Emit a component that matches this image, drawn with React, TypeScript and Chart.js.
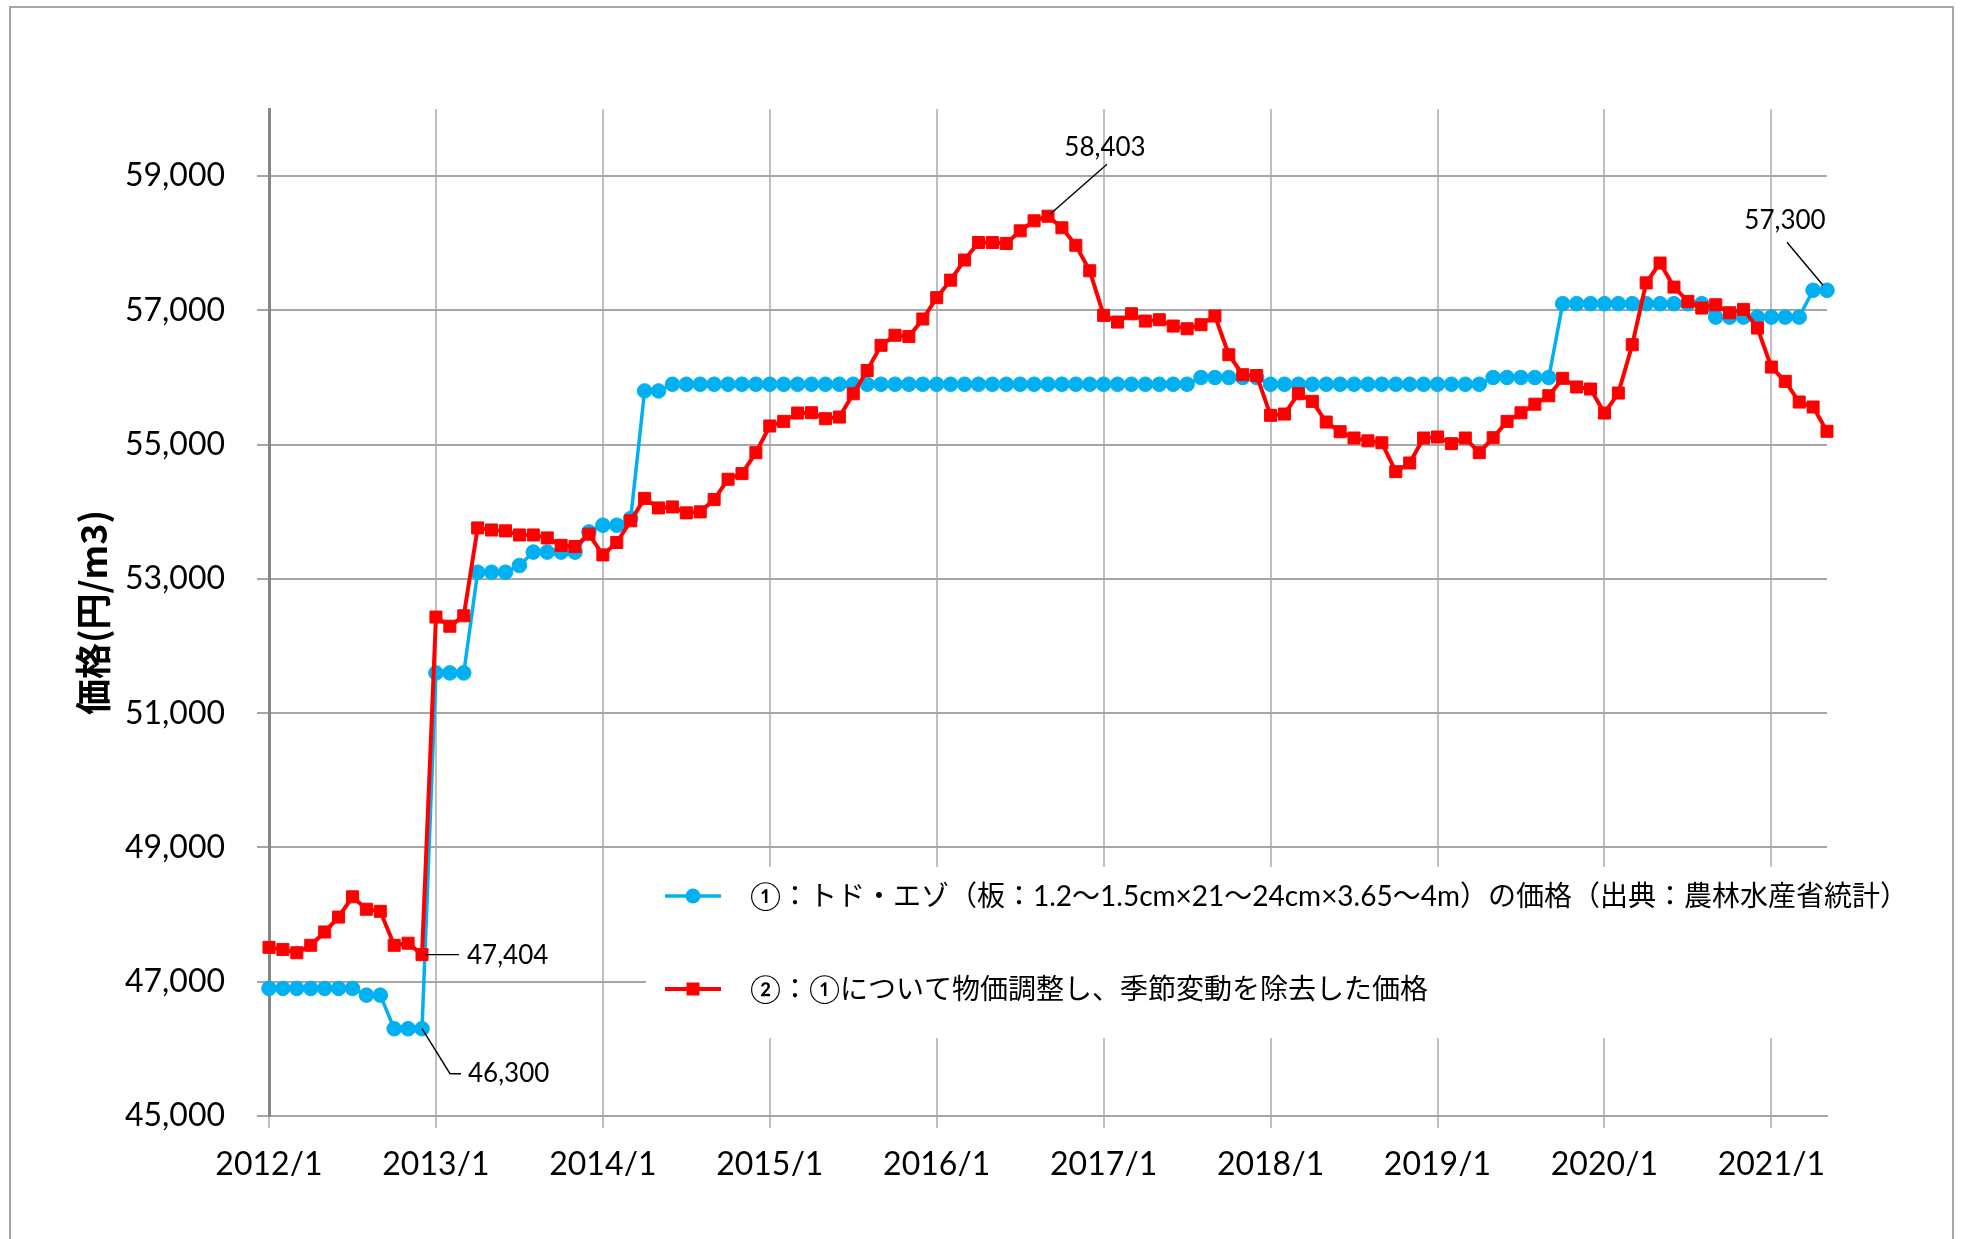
import { useEffect, useRef } from 'react';
import { Chart, registerables } from 'chart.js';

Chart.register(...registerables);

// ---- categories (monthly, 2012/1 .. 2021/5) ----
const START_YEAR = 2012;
const MONTH_COUNT = 113;
const monthLabels: string[] = [];
for (let i = 0; i < MONTH_COUNT; i++) {
  monthLabels.push(`${START_YEAR + Math.floor(i / 12)}/${(i % 12) + 1}`);
}

// ---- series names ----
const seriesNames = [
  '①：トド・エゾ（板：1.2～1.5cm×21～24cm×3.65～4m）の価格（出典：農林水産省統計）',
  '②：①について物価調整し、季節変動を除去した価格',
];

// ---- ① raw price (yen/m3) ----
const priceRaw = [
  46900, 46900, 46900, 46900, 46900, 46900, 46900, 46800, 46800, 46300, 46300, 46300,
  51600, 51600, 51600, 53100, 53100, 53100, 53200, 53400, 53400, 53400, 53400, 53700,
  53800, 53800, 53900, 55800, 55800, 55900, 55900, 55900, 55900, 55900, 55900, 55900,
  55900, 55900, 55900, 55900, 55900, 55900, 55900, 55900, 55900, 55900, 55900, 55900,
  55900, 55900, 55900, 55900, 55900, 55900, 55900, 55900, 55900, 55900, 55900, 55900,
  55900, 55900, 55900, 55900, 55900, 55900, 55900, 56000, 56000, 56000, 56000, 56000,
  55900, 55900, 55900, 55900, 55900, 55900, 55900, 55900, 55900, 55900, 55900, 55900,
  55900, 55900, 55900, 55900, 56000, 56000, 56000, 56000, 56000, 57100, 57100, 57100,
  57100, 57100, 57100, 57100, 57100, 57100, 57100, 57100, 56900, 56900, 56900, 56900,
  56900, 56900, 56900, 57300, 57300,
];

// ---- ② price-adjusted, seasonally adjusted (yen/m3) ----
const priceAdjusted = [
  47512, 47481, 47432, 47543, 47741, 47963, 48265, 48080, 48049, 47543, 47574, 47404,
  52432, 52296, 52451, 53760, 53729, 53716, 53655, 53655, 53611, 53500, 53482, 53667,
  53358, 53543, 53865, 54200, 54058, 54073, 53984, 53999, 54182, 54485, 54569, 54881,
  55278, 55347, 55471, 55476, 55387, 55411, 55758, 56105, 56480, 56630, 56610, 56872,
  57190, 57451, 57750, 58011, 58011, 57997, 58185, 58334, 58403, 58231, 57970, 57590,
  56926, 56826, 56950, 56841, 56861, 56767, 56727, 56787, 56916, 56340, 56042, 56030,
  55437, 55456, 55759, 55645, 55337, 55193, 55099, 55057, 55028, 54598, 54727, 55099,
  55114, 55015, 55099, 54881, 55104, 55347, 55474, 55603, 55729, 55988, 55859, 55829,
  55471, 55769, 56489, 57410, 57705, 57347, 57134, 57035, 57084, 56965, 57015, 56737,
  56156, 55943, 55635, 55561, 55199,
];

// ---- axis ----
const yTicks = [45000, 47000, 49000, 51000, 53000, 55000, 57000, 59000];
const Y_MIN = 45000;
const Y_MAX = 60000;
const yTitle = '価格(円/m3)';

// ---- callouts: [series index, month] ----
const callouts: [number, string][] = [
  [1, '2016/9'],
  [0, '2021/5'],
  [1, '2012/12'],
  [0, '2012/12'],
];

const COLORS = ['#00B0F0', '#FF0000'];
const FONT = 'Lato, "Noto Sans CJK JP", sans-serif';
const fmt = (v: number) => v.toLocaleString('en-US');

const overlayPlugin = {
  id: 'overlay',
  afterDraw(chart: any) {
    const ctx: CanvasRenderingContext2D = chart.ctx;
    const xs = chart.scales.x;
    const ys = chart.scales.y;
    const series = [priceRaw, priceAdjusted];
    ctx.save();

    // legend box (covers gridlines)
    ctx.fillStyle = '#ffffff';
    ctx.fillRect(635, 859, 1275, 171);
    const rows = [888, 981];
    rows.forEach((ry, i) => {
      ctx.strokeStyle = COLORS[i];
      ctx.lineWidth = i === 0 ? 3.5 : 4;
      ctx.beginPath();
      ctx.moveTo(654, ry);
      ctx.lineTo(710, ry);
      ctx.stroke();
      ctx.fillStyle = COLORS[i];
      if (i === 0) {
        ctx.beginPath();
        ctx.arc(682, ry, 7.5, 0, Math.PI * 2);
        ctx.fill();
      } else {
        ctx.fillRect(682 - 6.5, ry - 6.5, 13, 13);
      }
      ctx.fillStyle = '#000';
      ctx.font = `28px ${FONT}`;
      ctx.textAlign = 'left';
      ctx.textBaseline = 'middle';
      ctx.fillText(seriesNames[i], 739, ry + 1);
    });

    // callouts
    ctx.strokeStyle = '#000';
    ctx.lineWidth = 1.4;
    ctx.fillStyle = '#000';
    ctx.font = `26px ${FONT}`;
    ctx.textBaseline = 'middle';
    callouts.forEach(([s, month], k) => {
      const idx = monthLabels.indexOf(month);
      const v = series[s][idx];
      const x = xs.getPixelForValue(idx);
      const y = ys.getPixelForValue(v);
      const text = fmt(v);
      ctx.beginPath();
      if (k === 0) {
        ctx.moveTo(x + 2, y - 2);
        ctx.lineTo(x + 59, y - 52);
        ctx.stroke();
        ctx.textAlign = 'center';
        ctx.fillText(text, x + 57, y - 69);
      } else if (k === 1) {
        ctx.moveTo(x - 4, y - 5);
        ctx.lineTo(x - 40, y - 48);
        ctx.stroke();
        ctx.textAlign = 'center';
        ctx.fillText(text, x - 42, y - 70);
      } else if (k === 2) {
        ctx.moveTo(x + 3, y);
        ctx.lineTo(x + 37, y);
        ctx.stroke();
        ctx.textAlign = 'left';
        ctx.fillText(text, x + 45, y + 1);
      } else {
        ctx.moveTo(x, y);
        ctx.lineTo(x + 28, y + 45);
        ctx.lineTo(x + 39, y + 45);
        ctx.stroke();
        ctx.textAlign = 'left';
        ctx.fillText(text, x + 46, y + 45);
      }
    });
    ctx.restore();
  },
};

export default function App() {
  const canvasRef = useRef<HTMLCanvasElement | null>(null);

  useEffect(() => {
    if (!canvasRef.current) return;
    const chart = new Chart(canvasRef.current, {
      type: 'line',
      data: {
        labels: monthLabels,
        datasets: [
          {
            label: seriesNames[0],
            data: priceRaw,
            borderColor: COLORS[0],
            backgroundColor: COLORS[0],
            borderWidth: 3.5,
            pointStyle: 'circle',
            pointRadius: 7.3,
            pointBorderWidth: 1,
            pointBackgroundColor: COLORS[0],
            pointBorderColor: COLORS[0],
            tension: 0,
            order: 2,
          },
          {
            label: seriesNames[1],
            data: priceAdjusted,
            borderColor: COLORS[1],
            backgroundColor: COLORS[1],
            borderWidth: 4,
            pointStyle: 'rect',
            pointRadius: 8.5,
            pointBorderWidth: 1,
            pointBackgroundColor: COLORS[1],
            pointBorderColor: COLORS[1],
            tension: 0,
            order: 1,
          },
        ],
      },
      options: {
        responsive: false,
        animation: false,
        events: [],
        layout: { padding: { left: 0, right: 125, top: 101, bottom: 63 } },
        plugins: {
          legend: { display: false },
          tooltip: { enabled: false },
        },
        scales: {
          x: {
            type: 'category',
            offset: false,
            afterBuildTicks: (scale: any) => {
              scale.ticks = scale.ticks.filter(
                (t: any) => monthLabels[t.value].split('/')[1] === '1'
              );
            },
            afterFit: (scale: any) => {
              scale.height = 60;
            },
            grid: {
              color: '#bfbfbf',
              lineWidth: 2,
              tickLength: 12,
              drawTicks: true,
            },
            border: { display: true, color: '#a6a6a6', width: 2 },
            ticks: {
              autoSkip: false,
              maxRotation: 0,
              minRotation: 0,
              padding: 17,
              color: '#000',
              font: { family: FONT, size: 32 },
            },
          },
          y: {
            type: 'linear',
            min: Y_MIN,
            max: Y_MAX,
            afterBuildTicks: (scale: any) => {
              scale.ticks = yTicks.map((v) => ({ value: v }));
            },
            afterFit: (scale: any) => {
              scale.width = 258;
            },
            grid: {
              color: '#a6a6a6',
              lineWidth: 2,
              tickLength: 12,
              drawTicks: true,
            },
            border: { display: true, color: '#868686', width: 3 },
            ticks: {
              padding: 32,
              color: '#000',
              font: { family: FONT, size: 32 },
              callback: (v: any) => fmt(Number(v)),
            },
            title: {
              display: true,
              text: yTitle,
              color: '#000',
              font: { family: '"Noto Sans CJK JP", sans-serif', size: 36, weight: 'bold' },
              padding: { top: 61, bottom: 0 },
            },
          },
        },
      },
      plugins: [overlayPlugin],
    } as any);
    return () => chart.destroy();
  }, []);

  return (
    <div
      style={{
        position: 'absolute',
        left: 9,
        top: 6,
        width: 1945,
        height: 1233,
        boxSizing: 'border-box',
        borderTop: '2px solid #a6a6a6',
        borderLeft: '2px solid #a6a6a6',
        borderRight: '2px solid #a6a6a6',
        background: '#fff',
        overflow: 'hidden',
      }}
    >
      <canvas ref={canvasRef} width={1941} height={1231} style={{ display: 'block' }} />
    </div>
  );
}
